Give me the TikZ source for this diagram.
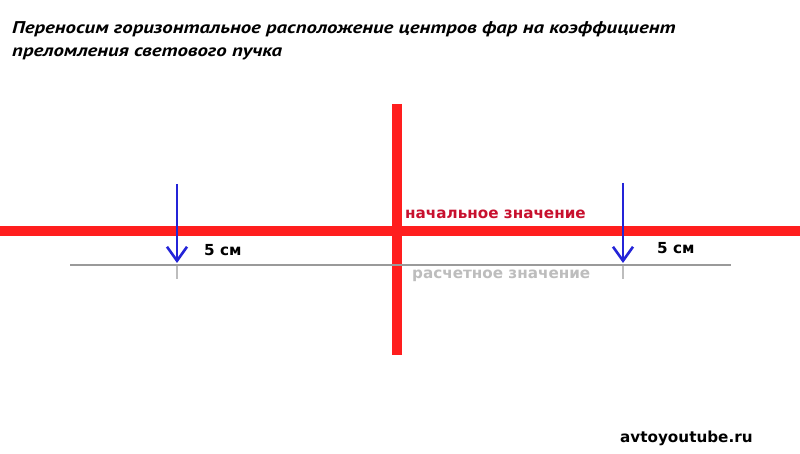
\documentclass[tikz,border=0pt]{standalone}
\usepackage{fontspec}
\setmainfont{DejaVu Sans}
\newfontfamily\titlefont{PT Sans}
\newfontfamily\labelfont{DejaVu Sans}
\usetikzlibrary{arrows.meta}
\definecolor{beamred}{HTML}{FF1E1E}
\definecolor{labelred}{HTML}{C8102E}
\definecolor{calcgray}{HTML}{9A9A9A}
\definecolor{lightgray}{HTML}{BDBDBD}
\definecolor{arrowblue}{HTML}{2424D8}
\newcommand{\titlestretch}[1]{\scalebox{1.225}[1]{#1}}
\tikzset{
  redbar/.style={draw=beamred, line width=10pt},
  graybar/.style={draw=calcgray, line width=2.6pt},
  downarrow/.style={draw=arrowblue, line width=2.8pt, -{Straight Barb[length=14pt,width=20pt,line width=2.6pt]}},
  tickmark/.style={draw=lightgray, line width=1.4pt},
  titletext/.style={anchor=west, inner sep=0pt, font=\titlefont\bfseries\itshape\fontsize{17}{20}\selectfont},
  cmtext/.style={anchor=west, inner sep=0pt, font=\labelfont\bfseries\fontsize{15.2}{18}\selectfont},
  valtext/.style={anchor=west, inner sep=0pt, font=\labelfont\bfseries\fontsize{15.2}{18}\selectfont},
}
\begin{document}
\begin{tikzpicture}[x=1pt,y=-1pt]
\useasboundingbox[fill=white] (0,0) rectangle (800,454);
% title
\node[titletext] (t1) at (12,29) {\titlestretch{Переносим горизонтальное расположение центров фар на коэффициент}};
\node[titletext] (t2) at (12,54) {\titlestretch{преломления светового пучка}};
% red lines
\coordinate (hL) at (0,231);
\coordinate (hR) at (800,231);
\coordinate (vT) at (397,104);
\coordinate (vB) at (397,355);
\draw[redbar] (hL) -- (hR);
\draw[redbar] (vT) -- (vB);
% gray line
\coordinate (gL) at (70,265);
\coordinate (gR) at (731,265);
\draw[graybar] (gL) -- (gR);
% ticks
\coordinate (k1a) at (177,266);
\coordinate (k1b) at (177,279);
\coordinate (k2a) at (623,266);
\coordinate (k2b) at (623,279);
\draw[tickmark] (k1a) -- (k1b);
\draw[tickmark] (k2a) -- (k2b);
% arrows
\coordinate (a1s) at (177,184);
\coordinate (a1e) at (177,263);
\coordinate (a2s) at (623,183);
\coordinate (a2e) at (623,263);
\draw[downarrow] (a1s) -- (a1e);
\draw[downarrow] (a2s) -- (a2e);
% labels
\node[cmtext] (c1) at (204,250) {5 см};
\node[cmtext] (c2) at (657,248) {5 см};
\node[valtext, text=labelred] (v1) at (405,214) {начальное значение};
\node[valtext, text=lightgray] (v2) at (412,276) {расчетное значение};
\node[cmtext] (site) at (620,438) {avtoyoutube.ru};
\end{tikzpicture}
\end{document}
